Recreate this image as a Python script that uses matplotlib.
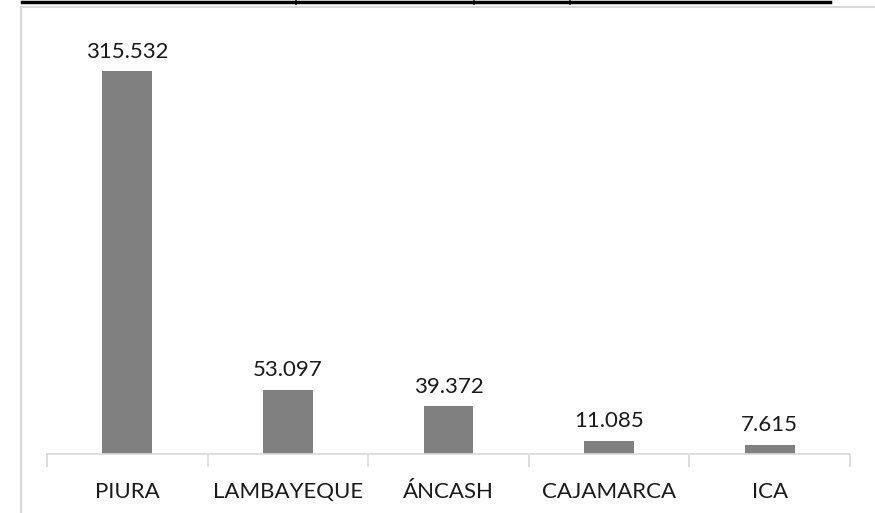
import matplotlib
matplotlib.use("Agg")
import matplotlib.pyplot as plt
from matplotlib.lines import Line2D

regiones = ["PIURA", "LAMBAYEQUE", "ÁNCASH", "CAJAMARCA", "ICA"]
valores = [315.532, 53.097, 39.372, 11.085, 7.615]
etiquetas = ["315.532", "53.097", "39.372", "11.085", "7.615"]

W, H = 875, 513
fig = plt.figure(figsize=(W / 100, H / 100), dpi=100)
plt.rcParams['font.family'] = ['Lato', 'DejaVu Sans']

# plot area: x 47..850, baseline at y=454
ax = fig.add_axes([47 / W, 1 - 454 / H, (850 - 47) / W, (454 - 20) / H])
x = range(len(regiones))
ax.bar(x, valores, width=0.31, color="#808080")
ax.set_xlim(-0.5, len(regiones) - 0.5)
ax.set_ylim(0, 358)
for i, v in enumerate(valores):
    ax.text(i, v + 8, etiquetas[i], ha="center", va="bottom", fontsize=16, color="#1a1a1a")

for s in ["top", "right", "left"]:
    ax.spines[s].set_visible(False)
ax.spines["bottom"].set_color("#d9d9d9")
ax.spines["bottom"].set_linewidth(1.2)
ax.set_yticks([])
ax.set_xticks([i - 0.5 for i in range(len(regiones) + 1)], minor=False)
ax.set_xticklabels([])
ax.tick_params(axis="x", length=9, color="#d9d9d9", width=1.2)
ax.set_xticks(list(x), minor=True)
ax.set_xticklabels(regiones, minor=True, fontsize=16, color="#1a1a1a")
ax.tick_params(axis="x", which="minor", length=0, pad=20)

# chart frame (light gray) and the cut-off title underline
fig.add_artist(Line2D([21 / W, 21 / W], [0, 1 - 7 / H], color="#d9d9d9", lw=1.5))
fig.add_artist(Line2D([21 / W, 1], [1 - 7 / H, 1 - 7 / H], color="#d9d9d9", lw=1.5))
fig.add_artist(Line2D([22 / W, 830 / W], [1 - 1.5 / H, 1 - 1.5 / H], color="black", lw=2.5))
for tx in [296, 474, 570]:
    fig.add_artist(Line2D([tx / W, tx / W], [1 - 1 / H, 1 - 4 / H], color="black", lw=1.2))

fig.savefig("out.png", dpi=100)
